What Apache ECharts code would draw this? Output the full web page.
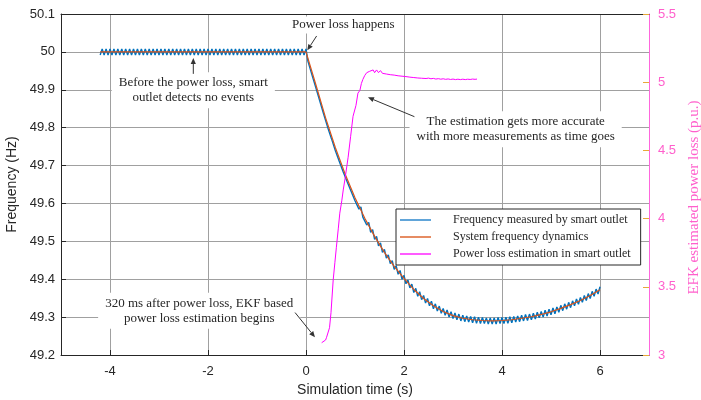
<!DOCTYPE html>
<html>
<head>
<meta charset="utf-8">
<script src="https://cdn.jsdelivr.net/npm/echarts@6/dist/echarts.min.js"></script>
<style>
html,body{margin:0;padding:0;background:#fff;}
#chart{width:701px;height:400px;}
</style>
</head>
<body>
<div id="chart"></div>
<script>
// ---------------- data ----------------
const xTickValues = [-4, -2, 0, 2, 4, 6];

// measured frequency by smart outlet (sampled every 0.04 s from -4.2 s)
const measStart = -4.2;
const measStep = 0.04;
const freqMeasured = [
49.992,50.008,49.992,50.008,49.992,50.008,49.992,50.008,49.992,50.008,
49.992,50.008,49.992,50.008,49.992,50.008,49.992,50.008,49.992,50.008,
49.992,50.008,49.992,50.008,49.992,50.008,49.992,50.008,49.992,50.008,
49.992,50.008,49.992,50.008,49.992,50.008,49.992,50.008,49.992,50.008,
49.992,50.008,49.992,50.008,49.992,50.008,49.992,50.008,49.992,50.008,
49.992,50.008,49.992,50.008,49.992,50.008,49.992,50.008,49.992,50.008,
49.992,50.008,49.992,50.008,49.992,50.008,49.992,50.008,49.992,50.008,
49.992,50.008,49.992,50.008,49.992,50.008,49.992,50.008,49.992,50.008,
49.992,50.008,49.992,50.008,49.992,50.008,49.992,50.008,49.992,50.008,
49.992,50.008,49.992,50.008,49.992,50.008,49.992,50.008,49.992,50.008,
49.992,50.008,49.992,50.008,49.992,
50.008,49.975,49.974,49.940,49.939,49.906,49.904,49.871,49.869,49.836,
49.834,49.802,49.802,49.771,49.771,49.739,49.741,49.711,49.713,49.683,
49.685,49.657,49.660,49.632,49.635,49.607,49.612,49.585,49.591,49.564,
49.569,49.543,49.550,49.524,49.531,49.505,49.513,49.488,49.496,49.471,
49.479,49.456,49.464,49.441,49.449,49.426,49.436,49.413,49.423,49.400,
49.410,49.388,49.398,49.377,49.387,49.365,49.376,49.355,49.367,49.346,
49.357,49.337,49.349,49.330,49.342,49.322,49.335,49.316,49.329,49.310,
49.323,49.305,49.319,49.300,49.314,49.296,49.311,49.293,49.308,49.290,
49.305,49.288,49.303,49.287,49.302,49.285,49.301,49.284,49.300,49.283,
49.299,49.283,49.298,49.282,49.298,49.282,49.298,49.282,49.299,49.283,
49.299,49.283,49.300,49.284,49.301,49.285,49.302,49.287,49.303,49.288,
49.305,49.290,49.307,49.291,49.308,49.293,49.310,49.295,49.313,49.298,
49.315,49.300,49.318,49.303,49.321,49.306,49.324,49.309,49.327,49.313,
49.331,49.317,49.335,49.321,49.339,49.325,49.343,49.330,49.348,49.334,
49.352,49.339,49.357,49.344,49.362,49.349,49.368,49.355,49.374,49.361,
49.380
];

// system frequency dynamics
const sysTime = [-4.2, 0, 0.2, 0.4, 0.6, 0.8, 1.0, 1.2, 1.4, 1.6, 1.8, 2.0, 2.2, 2.4, 2.6, 2.8, 3.0,
  3.2, 3.4, 3.6, 3.8, 4.0, 4.2, 4.4, 4.6, 4.8, 5.0, 5.2, 5.4, 5.6, 5.8, 6.0];
const sysFreq = [50, 50, 49.914, 49.826, 49.747, 49.677, 49.615, 49.561, 49.513, 49.471, 49.434, 49.402,
  49.373, 49.349, 49.330, 49.315, 49.304, 49.297, 49.293, 49.291, 49.290, 49.291, 49.293, 49.297,
  49.301, 49.307, 49.314, 49.323, 49.333, 49.344, 49.357, 49.372];

// EKF power loss estimation (p.u.)
const estTime = [0.32, 0.36, 0.40, 0.42, 0.45, 0.48, 0.51, 0.555, 0.59, 0.62, 0.66, 0.69, 0.73, 0.76,
  0.80, 0.86, 0.91, 0.96, 1.02, 1.06, 1.10, 1.13, 1.16, 1.20, 1.24, 1.27, 1.30, 1.34, 1.37, 1.40,
  1.44, 1.48, 1.52, 1.56, 1.60, 1.64, 1.68, 1.72, 1.76, 1.80, 1.84, 1.88, 1.92, 1.96, 2.00, 2.04,
  2.08, 2.12, 2.16, 2.20, 2.24, 2.28, 2.32, 2.36, 2.40, 2.45, 2.50, 2.55, 2.60, 2.65, 2.70, 2.75,
  2.80, 2.85, 2.90, 2.95, 3.00, 3.05, 3.10, 3.15, 3.20, 3.25, 3.30, 3.35, 3.40, 3.45, 3.49];
const estLoss = [3.09, 3.10, 3.11, 3.13, 3.14, 3.20, 3.31, 3.55, 3.68, 3.79, 3.93, 4.04, 4.13, 4.21,
  4.30, 4.45, 4.60, 4.75, 4.83, 4.92, 4.94, 4.99, 5.02, 5.05, 5.07, 5.06, 5.08, 5.07, 5.09, 5.07,
  5.09, 5.07, 5.085, 5.065, 5.075, 5.06, 5.07, 5.055, 5.063, 5.052, 5.058, 5.047, 5.053, 5.044, 5.049, 5.041,
  5.045, 5.037, 5.041, 5.034, 5.038, 5.031, 5.035, 5.029, 5.032, 5.027, 5.030, 5.025, 5.028, 5.023, 5.026, 5.022,
  5.025, 5.021, 5.024, 5.020, 5.023, 5.019, 5.022, 5.019, 5.022, 5.019, 5.022, 5.020, 5.023, 5.021, 5.023];

const seriesNames = ['Frequency measured by smart outlet', 'System frequency dynamics', 'Power loss estimation in smart outlet'];

// ---------------- chart ----------------
const chart = echarts.init(document.getElementById('chart'), null, {renderer: 'canvas'});

const measData = freqMeasured.map((f, i) => [+(measStart + i * measStep).toFixed(2), f]);
const sysData = sysTime.map((t, i) => [t, sysFreq[i]]);
const estData = estTime.map((t, i) => [t, estLoss[i]]);

const dark = '#262626';
const pinkText = '#ff5fcc';
const sans = '"Liberation Sans", Arial, sans-serif';
const serif = '"Liberation Serif", "Times New Roman", serif';
const lineIcon = 'path://M0,0 M0,10 M0,4.2 L31,4.2 L31,5.8 L0,5.8 Z';

chart.setOption({
  animation: false,
  backgroundColor: '#fff',
  grid: {left: 61, right: 52, top: 14, bottom: 45, containLabel: false, outerBoundsMode: 'none'},
  legend: {
    orient: 'vertical',
    left: 396, top: 209,
    padding: [5, 10, 5, 4],
    itemGap: 5,
    itemWidth: 31, itemHeight: 10,
    backgroundColor: '#fff',
    borderColor: dark, borderWidth: 1,
    textStyle: {fontFamily: serif, fontSize: 12, color: dark, padding: [0, 0, 0, 17]},
    data: seriesNames.map(n => ({name: n, icon: lineIcon}))
  },
  xAxis: [{
    type: 'value', min: -5, max: 7, position: 'bottom',
    axisLine: {show: true, onZero: false, lineStyle: {color: dark, width: 1}},
    axisTick: {show: true, inside: true, length: 5, customValues: xTickValues, lineStyle: {color: dark}},
    axisLabel: {customValues: xTickValues, color: dark, fontFamily: sans, fontSize: 13, margin: 10},
    splitLine: {show: true, lineStyle: {color: '#a0a0a0', width: 1}},
    name: 'Simulation time (s)', nameLocation: 'middle', nameGap: 27,
    nameTextStyle: {fontFamily: sans, fontSize: 14, color: dark}
  }, {
    type: 'value', min: -5, max: 7, position: 'top',
    axisLine: {show: true, onZero: false, lineStyle: {color: dark, width: 1}},
    axisTick: {show: false}, axisLabel: {show: false}, splitLine: {show: false}
  }],
  yAxis: [{
    type: 'value', min: 49.2, max: 50.1, interval: 0.1, position: 'left',
    axisLine: {show: true, onZero: false, lineStyle: {color: dark, width: 1}},
    axisTick: {show: true, inside: true, length: 5, lineStyle: {color: dark}},
    axisLabel: {color: dark, fontFamily: sans, fontSize: 13, margin: 6,
      formatter: v => String(+v.toFixed(1))},
    splitLine: {show: true, lineStyle: {color: '#a0a0a0', width: 1}},
    name: 'Frequency (Hz)', nameLocation: 'middle', nameGap: 37,
    nameTextStyle: {fontFamily: sans, fontSize: 14, color: dark}
  }, {
    type: 'value', min: 3, max: 5.5, interval: 0.5, position: 'right',
    axisLine: {show: true, onZero: false, lineStyle: {color: '#ff66dd', width: 1}},
    axisTick: {show: true, inside: true, length: 6, lineStyle: {color: '#e8a838'}},
    axisLabel: {color: pinkText, fontFamily: sans, fontSize: 13, margin: 9},
    splitLine: {show: false},
    name: 'EFK estimated power loss (p.u.)', nameLocation: 'middle', nameGap: 35, nameRotate: 90,
    nameTextStyle: {fontFamily: serif, fontSize: 15, color: pinkText, padding: [0, 26, 0, 0]}
  }],
  series: [{
    name: seriesNames[0], type: 'line', xAxisIndex: 0, yAxisIndex: 0,
    data: measData, showSymbol: false, symbol: 'none',
    lineStyle: {color: '#0072BD', width: 1.4}, itemStyle: {color: '#3a8fd0'}, z: 2
  }, {
    name: seriesNames[1], type: 'line', xAxisIndex: 0, yAxisIndex: 0,
    data: sysData, showSymbol: false, symbol: 'none',
    lineStyle: {color: '#D95319', width: 1.2}, itemStyle: {color: '#e0703c'}, z: 3
  }, {
    name: seriesNames[2], type: 'line', xAxisIndex: 0, yAxisIndex: 1,
    data: estData, showSymbol: false, symbol: 'none',
    lineStyle: {color: '#FF00FF', width: 1}, itemStyle: {color: '#ff33ff'}, z: 4
  }]
});

// ---------------- annotations (anchored in data coordinates) ----------------
const notes = [
  {text: 'Power loss happens', at: [-0.325, 50.071], align: 'left', pad: [1, 2, 1, 2]},
  {text: 'Before the power loss, smart\noutlet detects no events', at: [-2.30, 49.899], align: 'center', pad: [3, 7, 3, 7]},
  {text: 'The estimation gets more accurate\nwith more measurements as time goes', at: [4.278, 49.796], align: 'center', pad: [3, 7, 3, 7]},
  {text: '320 ms after power loss, EKF based\npower loss estimation begins', at: [-2.18, 49.317], align: 'center', pad: [3, 7, 3, 7]}
];
const arrows = [
  {from: [0.217, 50.042], to: [0.026, 50.004]},
  {from: [-2.30, 49.942], to: [-2.30, 49.984]},
  {from: [2.213, 49.829], to: [1.265, 49.880]},
  {from: [-0.223, 49.312], to: [0.183, 49.247]}
];

function px(p) { return chart.convertToPixel({xAxisIndex: 0, yAxisIndex: 0}, p); }

const graphics = [];
notes.forEach(n => {
  const p = px(n.at);
  graphics.push({
    type: 'text', x: p[0], y: p[1], z: 50,
    style: {
      text: n.text, font: '13px ' + serif, fill: dark,
      align: n.align, verticalAlign: 'middle', lineHeight: 15,
      backgroundColor: '#fff', padding: n.pad
    }
  });
});
arrows.forEach(a => {
  const s = px(a.from), e = px(a.to);
  const dx = e[0] - s[0], dy = e[1] - s[1];
  const len = Math.sqrt(dx * dx + dy * dy);
  const ux = dx / len, uy = dy / len;
  const L = 6, W = 2.6;
  const bx = e[0] - ux * L, by = e[1] - uy * L;
  graphics.push({
    type: 'line', z: 51,
    shape: {x1: s[0], y1: s[1], x2: bx, y2: by},
    style: {stroke: '#333', lineWidth: 1}
  });
  graphics.push({
    type: 'polygon', z: 51,
    shape: {points: [[e[0], e[1]], [bx - uy * W, by + ux * W], [bx + uy * W, by - ux * W]]},
    style: {fill: '#333'}
  });
});
chart.setOption({graphic: graphics});
</script>
</body>
</html>
